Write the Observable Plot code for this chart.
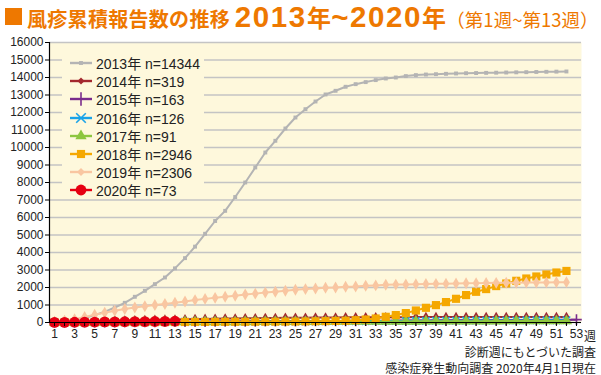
<!DOCTYPE html>
<html><head><meta charset="utf-8">
<script src="https://cdn.jsdelivr.net/npm/d3@7"></script>
<script src="https://cdn.jsdelivr.net/npm/@observablehq/plot@0.6"></script>
<style>
body{margin:0;background:#fff;font-family:"Liberation Sans",Arial,"Noto Sans CJK JP",sans-serif;color:#222;}
#wrap{position:relative;width:601px;height:375px;overflow:hidden;background:#fff;}
#title{position:absolute;left:0;top:0;height:34px;width:601px;white-space:nowrap;}
#title .sq{position:absolute;left:5px;top:8px;width:17px;height:17px;background:#ee7800;}
#title .main{position:absolute;left:27px;top:0px;font-family:"Noto Sans CJK JP",sans-serif;font-weight:bold;font-size:20px;color:#ee7800;line-height:33px;letter-spacing:0.3px;}
#title .main .num{font-family:"Liberation Sans",Arial,sans-serif;font-size:29.5px;letter-spacing:1.6px;}
#title .main .nen{font-size:24px;}
#title .sub{font-family:"Noto Sans CJK JP",sans-serif;font-weight:normal;font-size:18.5px;color:#ee7800;margin-left:0px;letter-spacing:0;}
#chart{position:absolute;left:0;top:34px;}
#legend{position:absolute;left:62px;top:50px;width:142px;height:148px;background:#fef8dc;padding-top:4px;box-sizing:border-box;}
#legend .row{height:18.2px;display:flex;align-items:center;font-size:14px;white-space:nowrap;}
#legend svg{margin-left:8px;margin-right:4px;}
#wk{position:absolute;left:584px;top:330px;font-size:12px;line-height:12px;font-family:"Noto Sans CJK JP",sans-serif;}
#cap{position:absolute;right:5px;top:344px;text-align:right;font-size:12px;line-height:16px;font-family:"Noto Sans CJK JP",sans-serif;}
</style></head>
<body>
<div id="wrap">
  <div id="title"><div class="sq"></div><div class="main">風疹累積報告数の推移 <span class="num">2013</span><span class="nen">年</span><span class="num">~2020</span><span class="nen">年</span><span class="sub">（第1週~第13週）</span></div></div>
  <div id="chart"></div>
  <div id="legend"></div>
  <div id="wk">週</div>
  <div id="cap">診断週にもとづいた調査<br>感染症発生動向調査 2020年4月1日現在</div>
</div>
<script>
const years = ["2013","2014","2015","2016","2017","2018","2019","2020"];
const legendLabels = ["2013年 n=14344","2014年 n=319","2015年 n=163","2016年 n=126","2017年 n=91","2018年 n=2946","2019年 n=2306","2020年 n=73"];
const colors = ["#b4b4b4","#a3282e","#7a2c8c","#1aa3e8","#8dc63f","#f5a800","#f9c6a1","#e60012"];
const symbols = ["square","diamond","plus","times","triangle","square","diamond","circle"];
const radii = [2.2,3.2,3.5,3.5,4.2,4.6,3.6,5.4];

const v2013 = [40,90,160,260,420,611,857,1126,1469,1811,2192,2571,3095,3678,4335,5070,5800,6380,7170,8000,8860,9714,10383,11086,11714,12190,12629,13030,13240,13470,13620,13737,13851,13943,14000,14080,14137,14170,14190,14210,14230,14245,14255,14265,14275,14285,14295,14305,14315,14325,14335,14344];
const v2014 = [12,25,40,55,70,86,100,114,128,140,152,163,174,186,196,206,215,224,232,240,247,254,260,266,271,276,281,285,289,293,296,299,301,303,305,307,308,309,310,311,312,313,314,314,315,315,316,316,317,318,318,319];
const v2015 = [3,6,9,13,16,19,22,25,28,31,35,38,41,44,47,50,53,56,59,62,65,68,71,74,77,80,83,86,89,92,95,98,101,104,107,110,113,116,119,122,125,128,131,134,137,140,143,146,149,152,155,159,163];
const v2016 = [2,4,7,9,11,14,16,18,21,23,26,29,31,33,36,38,41,44,46,49,51,54,57,60,62,65,67,70,72,75,78,80,83,85,88,90,93,96,98,101,103,106,108,110,112,114,116,118,120,122,124,126];
const v2017 = [1,3,5,6,8,10,12,13,15,17,19,21,23,24,26,28,30,32,33,35,37,39,40,42,44,46,48,49,51,53,55,56,58,60,62,63,65,67,69,70,72,74,76,77,79,81,83,84,86,88,89,91];
const v2018 = [2,4,6,8,10,13,15,17,19,21,23,25,27,29,31,33,35,37,39,41,43,45,47,50,55,62,70,78,88,100,130,170,229,326,423,537,686,840,994,1166,1354,1566,1754,1909,2080,2229,2383,2514,2629,2743,2857,2946];
const v2019 = [50,110,190,320,450,560,670,770,860,930,1000,1060,1126,1200,1280,1350,1410,1470,1530,1600,1650,1710,1760,1811,1869,1909,1943,1983,2000,2040,2057,2097,2120,2154,2165,2171,2190,2200,2210,2220,2230,2240,2250,2260,2265,2270,2275,2280,2285,2290,2300,2306];
const v2020 = [5,11,17,22,27,32,37,42,47,52,58,66,73];
const seriesValues = [v2013,v2014,v2015,v2016,v2017,v2018,v2019,v2020];

const yTicks = [0,1000,2000,3000,4000,5000,6000,7000,8000,9000,10000,11000,12000,13000,14000,15000,16000];
const weekTicks = [1,2,3,4,5,6,7,8,9,10,11,12,13,14,15,16,17,18,19,20,21,22,23,24,25,26,27,28,29,30,31,32,33,34,35,36,37,38,39,40,41,42,43,44,45,46,47,48,49,50,51,52,53];
const weekLabels = [1,3,5,7,9,11,13,15,17,19,21,23,25,27,29,31,33,35,37,39,41,43,45,47,49,51,53];

const rowsBy = seriesValues.map((vals,k)=>vals.map((v,i)=>({year:years[k],week:i+1,value:v})));

const marks = [
  Plot.frame({fill:"#fef8dc", stroke:"none"}),
  Plot.gridY(yTicks, {stroke:"#c4c4c4", strokeOpacity:1, strokeWidth:1.4}),
];
rowsBy.forEach((rows,k)=>{
  marks.push(Plot.line(rows,{x:"week",y:"value",stroke:colors[k],strokeWidth:2}));
  const stroked = symbols[k]==="plus"||symbols[k]==="times";
  marks.push(Plot.dot(rows,{x:"week",y:"value",symbol:()=>symbols[k],r:radii[k],
    fill: stroked ? "none" : colors[k], stroke: stroked ? colors[k] : "none", strokeWidth: stroked?1.6:0}));
});
marks.push(
  Plot.ruleY([0],{stroke:"#000",strokeWidth:1}),
  Plot.ruleX([0.5],{stroke:"#000",strokeWidth:1.2}),
  Plot.axisY(yTicks,{tickSize:4,tickPadding:2,tickFormat:d=>String(d),fontSize:12,label:null,stroke:"#000"}),
  Plot.axisX(weekTicks,{tickSize:4,tickPadding:3,tickFormat:d=>weekLabels.includes(d)?String(d):"",fontSize:12,label:null,stroke:"#000"})
);

const chart = Plot.plot({
  width:601, height:310,
  marginTop:8, marginBottom:22, marginLeft:49, marginRight:20,
  x:{domain:[0.5,53.5]},
  y:{domain:[0,16000]},
  symbol:{type:"identity"},
  style:{fontFamily:"'Liberation Sans',Arial,sans-serif",fontSize:"12px",color:"#222",background:"transparent"},
  marks
});
document.getElementById("chart").appendChild(chart);

// legend
const leg = d3.select("#legend");
const symMap = {square:d3.symbolSquare,diamond:d3.symbolDiamond2,plus:d3.symbolPlus,times:d3.symbolTimes,triangle:d3.symbolTriangle,circle:d3.symbolCircle};
years.forEach((y,k)=>{
  const row = leg.append("div").attr("class","row");
  const s = row.append("svg").attr("width",22).attr("height",14);
  s.append("line").attr("x1",0).attr("x2",22).attr("y1",7).attr("y2",7).attr("stroke",colors[k]).attr("stroke-width",2.4);
  const stroked = symbols[k]==="plus"||symbols[k]==="times";
  s.append("path").attr("transform","translate(11,7)")
    .attr("d", d3.symbol(symMap[symbols[k]], Math.PI*radii[k]*radii[k]*(stroked?1.6:1))())
    .attr("fill", stroked?"none":colors[k]).attr("stroke", stroked?colors[k]:"none").attr("stroke-width",1.6);
  row.append("span").text(legendLabels[k]);
});
</script>
</body></html>
